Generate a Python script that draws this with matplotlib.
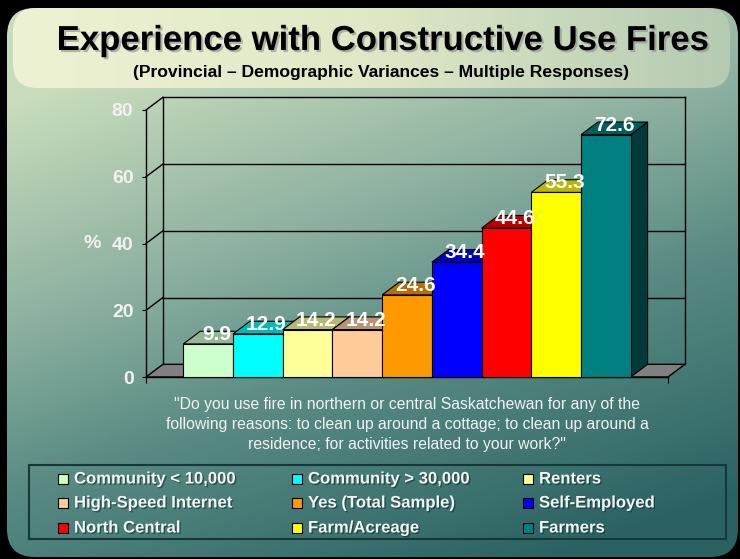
import numpy as np
import matplotlib
matplotlib.use('Agg')
import matplotlib.pyplot as plt
import matplotlib.patheffects as pe
from matplotlib.patches import Polygon, Rectangle, FancyBboxPatch
from matplotlib.colors import to_rgb, LinearSegmentedColormap

plt.rcParams['font.family'] = ['Liberation Sans', 'DejaVu Sans']

groups = ['Community < 10,000', 'Community > 30,000', 'Renters',
          'High-Speed Internet', 'Yes (Total Sample)', 'Self-Employed',
          'North Central', 'Farm/Acreage', 'Farmers']
values = [9.9, 12.9, 14.2, 14.2, 24.6, 34.4, 44.6, 55.3, 72.6]
colors = ['#ccffcc', '#00ffff', '#ffff99', '#ffcc99', '#ff9900',
          '#0000ff', '#ff0000', '#ffff00', '#008080']
yticks = [0, 20, 40, 60, 80]

title = 'Experience with Constructive Use Fires'
subtitle = '(Provincial \u2013 Demographic Variances \u2013 Multiple Responses)'
question = ['"Do you use fire in northern or central Saskatchewan for any of the',
            'following reasons: to clean up around a cottage; to clean up around a',
            'residence; for activities related to your work?"']

W, H = 740, 559
fig = plt.figure(figsize=(W / 100, H / 100), dpi=100, facecolor='black')


def fx(px):
    return px / W


def fy(py):
    return 1 - py / H


def shade(c, k):
    return tuple(np.array(to_rgb(c)) * k)


# slide background: teal panel with a cream title banner
bg = fig.add_axes([0, 0, 1, 1])
bg.set_xlim(0, W)
bg.set_ylim(H, 0)
bg.axis('off')

yy, xx = np.mgrid[0:H, 0:W]
t = np.clip(0.35 * (xx - 80) / 660 + 0.75 * (yy - 80) / 480, 0, 1)
panel_cmap = LinearSegmentedColormap.from_list(
    'panel', [(0, '#c8dcbc'), (0.35, '#8cb0a0'), (0.6, '#5a8c84'), (1, '#2a6262')])
panel = FancyBboxPatch((7, 8), 731, 549, boxstyle='round,pad=0,rounding_size=28',
                       fc='none', ec='none')
bg.add_patch(panel)
im = bg.imshow(t, cmap=panel_cmap, extent=(0, W, H, 0), aspect='auto', zorder=0)
im.set_clip_path(panel)

banner_cmap = LinearSegmentedColormap.from_list(
    'banner', ['#eef2d4', '#dfe8c6', '#b4cab2'])
banner = FancyBboxPatch((13, 8), 717, 80, boxstyle='round,pad=0,rounding_size=24',
                        fc='none', ec='none')
bg.add_patch(banner)
bim = bg.imshow(np.tile(np.linspace(0, 1, 200), (20, 1)), cmap=banner_cmap,
                extent=(0, W, 90, 0), aspect='auto', zorder=1)
bim.set_clip_path(banner)

fig.text(fx(383), fy(50), title, ha='center', va='baseline', fontsize=25,
         fontweight='bold', color='black',
         path_effects=[pe.withSimplePatchShadow(offset=(1.5, -1.5),
                                                shadow_rgbFace='#8a8a8a', alpha=0.6)])
fig.text(fx(381), fy(73), subtitle, ha='center', va='center', fontsize=12.6,
         fontweight='bold', color='black')

# 3-D column chart
ax = fig.add_axes([fx(146), fy(377), (668 - 146) / W, (377 - 110) / H])
ax.set_xlim(-0.75, 9.75)
ax.set_ylim(0, 80)
ax.patch.set_visible(False)
for s in ['top', 'right']:
    ax.spines[s].set_visible(False)
for s in ['left', 'bottom']:
    ax.spines[s].set_color('black')
    ax.spines[s].set_linewidth(1)

DX, DY = 0.34, 3.8
x_lo, x_hi = -0.75, 9.75

# floor and back wall
ax.add_patch(Polygon([(x_lo, 0), (x_hi, 0), (x_hi + DX, DY), (x_lo + DX, DY)],
                     fc='#808080', ec='black', lw=1, zorder=1, clip_on=False))
for v in yticks[1:]:
    ax.plot([x_lo + DX, x_hi + DX], [v + DY, v + DY], color='black', lw=1,
            zorder=1, clip_on=False)
    ax.plot([x_lo, x_lo + DX], [v, v + DY], color='black', lw=1,
            zorder=1, clip_on=False)
for xe in [x_lo + DX, x_hi + DX]:
    ax.plot([xe, xe], [DY, yticks[-1] + DY], color='black', lw=1,
            zorder=1, clip_on=False)

for i, (v, c) in enumerate(zip(values, colors)):
    z = 3 + i * 0.1
    ax.add_patch(Polygon([(i + 1, 0), (i + 1 + DX, DY), (i + 1 + DX, v + DY), (i + 1, v)],
                         fc=shade(c, 0.45), ec='black', lw=0.8, zorder=z, clip_on=False))
    ax.add_patch(Polygon([(i, v), (i + 1, v), (i + 1 + DX, v + DY), (i + DX, v + DY)],
                         fc=shade(c, 0.72), ec='black', lw=0.8, zorder=z, clip_on=False))
    ax.bar(i, v, width=1, align='edge', color=c, edgecolor='black', lw=0.8,
           zorder=z, clip_on=False)
    ax.text(i + 0.5 + DX / 2, v + 1.2, f'{v}', ha='center', va='baseline',
            color='white', fontsize=15, fontweight='bold', zorder=20)

ax.set_yticks(yticks)
ax.set_xticks([x_lo, x_hi])
ax.set_xticklabels([])
ax.tick_params(axis='y', direction='out', length=3, pad=6, colors='black',
               labelcolor='#f2f2f2', labelsize=14)
ax.tick_params(axis='x', direction='out', length=4, colors='black')
for lab in ax.get_yticklabels():
    lab.set_fontweight('bold')
fig.text(fx(92), fy(243), '%', ha='center', va='center', fontsize=14,
         color='#f2f2f2', fontweight='bold')

# survey question
for k, line in enumerate(question):
    fig.text(fx(407), fy(405 + 19.5 * k), line, ha='center', va='center',
             fontsize=11.3, color='#f2f2f2')

# legend box, three columns laid out row by row
bg.add_patch(Rectangle((29, 465), 697, 74, fc='none', ec='#173838', lw=1.5, zorder=5))
col_x = [58, 292, 523]
row_y = [479, 503, 528]
for k, (name, c) in enumerate(zip(groups, colors)):
    r, col = divmod(k, 3)
    bg.add_patch(Rectangle((col_x[col], row_y[r] - 5), 10, 10, fc=c, ec='black',
                           lw=0.8, zorder=6))
    bg.text(col_x[col] + 16, row_y[r], name, ha='left', va='center', fontsize=12,
            fontweight='bold', color='#f4f4f4', zorder=6,
            path_effects=[pe.withSimplePatchShadow(offset=(1, -1),
                                                   shadow_rgbFace='#103030', alpha=0.6)])

fig.savefig('out.png', dpi=100, facecolor=fig.get_facecolor())
